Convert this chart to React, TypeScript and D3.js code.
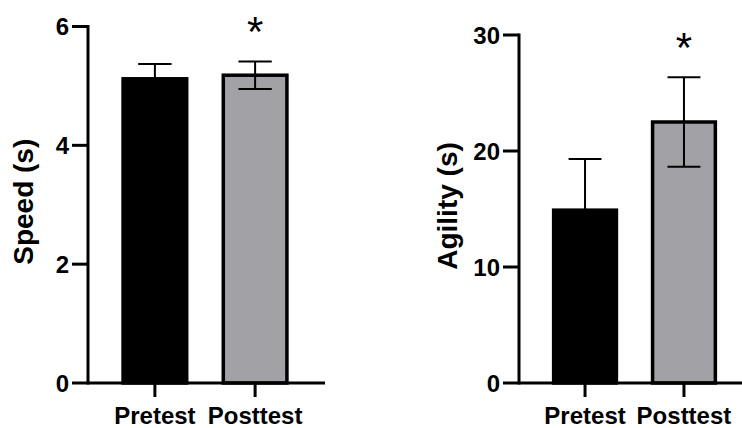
import React from 'react'
import * as d3 from 'd3'

const GROUPS = ['Pretest', 'Posttest']
const SPEED_MEAN = [5.12, 5.18]
const SPEED_SD = [0.25, 0.23]
const SPEED_TICKS = [0, 2, 4, 6]
const AGILITY_MEAN = [14.9, 22.5]
const AGILITY_SD = [4.4, 3.85]
const AGILITY_TICKS = [0, 10, 20, 30]
const SIGNIFICANT = [false, true]

const FILLS = ['#000000', '#a2a1a6']
const FONT = '"Liberation Sans", Arial, Helvetica, sans-serif'

interface PanelProps {
  title: string
  mean: number[]
  sd: number[]
  ticks: number[]
  yTop: number
  x0: number
  x1: number
  axisEnd: number
  titleX: number
}

const Panel = ({ title, mean, sd, ticks, yTop, x0, x1, axisEnd, titleX }: PanelProps) => {
  const y = d3.scaleLinear()
    .domain([0, ticks[ticks.length - 1]])
    .range([383, yTop])
  const x = d3.scaleBand()
    .domain(GROUPS)
    .range([x0, x1])
    .paddingInner(0.335)
    .paddingOuter(0.335)
  const bw = x.bandwidth()
  const tickLen = 16
  const yBottom = y.range()[0]

  return (
    <g>
      {GROUPS.map((g, i) => {
        const bx = x(g) as number
        const cx = bx + bw / 2
        const top = y(mean[i])
        const hi = y(mean[i] + sd[i])
        const lo = y(mean[i] - sd[i])
        return (
          <g key={g}>
            <rect
              x={bx + 1.5}
              y={top}
              width={bw - 3}
              height={yBottom - top}
              fill={FILLS[i]}
              stroke="#000"
              strokeWidth={3.5}
            />
            <line x1={cx} x2={cx} y1={hi} y2={lo} stroke="#000" strokeWidth={2} />
            <line x1={cx - bw / 4} x2={cx + bw / 4} y1={hi} y2={hi} stroke="#000" strokeWidth={2} />
            <line x1={cx - bw / 4} x2={cx + bw / 4} y1={lo} y2={lo} stroke="#000" strokeWidth={2} />
            {SIGNIFICANT[i] && (
              <text
                x={cx}
                y={hi - 39}
                dy="0.57em"
                textAnchor="middle"
                fontFamily={FONT}
                fontSize={42}
              >
                *
              </text>
            )}
            <line x1={cx} x2={cx} y1={yBottom} y2={yBottom + 14} stroke="#000" strokeWidth={3} />
            <text
              x={cx}
              y={424}
              textAnchor="middle"
              fontFamily={FONT}
              fontWeight="bold"
              fontSize={24}
            >
              {g}
            </text>
          </g>
        )
      })}
      <line x1={x0} x2={x0} y1={yTop - 1.5} y2={yBottom + 1.5} stroke="#000" strokeWidth={3} />
      <line x1={x0} x2={axisEnd} y1={yBottom} y2={yBottom} stroke="#000" strokeWidth={3} />
      {ticks.map(t => (
        <g key={t}>
          <line x1={x0 - tickLen} x2={x0} y1={y(t)} y2={y(t)} stroke="#000" strokeWidth={3} />
          <text
            x={x0 - tickLen - 3}
            y={y(t)}
            dy="0.36em"
            textAnchor="end"
            fontFamily={FONT}
            fontWeight="bold"
            fontSize={24}
          >
            {t}
          </text>
        </g>
      ))}
      <text
        transform={`translate(${titleX},${(yTop + yBottom) / 2 - 3}) rotate(-90)`}
        textAnchor="middle"
        fontFamily={FONT}
        fontWeight="bold"
        fontSize={28}
      >
        {title}
      </text>
    </g>
  )
}

export default function App() {
  return (
    <svg
      width={742}
      height={428}
      style={{ position: 'absolute', left: 0, top: 0, background: '#fff' }}
    >
      <Panel
        title="Speed (s)"
        mean={SPEED_MEAN}
        sd={SPEED_SD}
        ticks={SPEED_TICKS}
        yTop={26.5}
        x0={88}
        x1={322}
        axisEnd={325}
        titleX={33}
      />
      <Panel
        title="Agility (s)"
        mean={AGILITY_MEAN}
        sd={AGILITY_SD}
        ticks={AGILITY_TICKS}
        yTop={35}
        x0={519}
        x1={750}
        axisEnd={742}
        titleX={457}
      />
    </svg>
  )
}
